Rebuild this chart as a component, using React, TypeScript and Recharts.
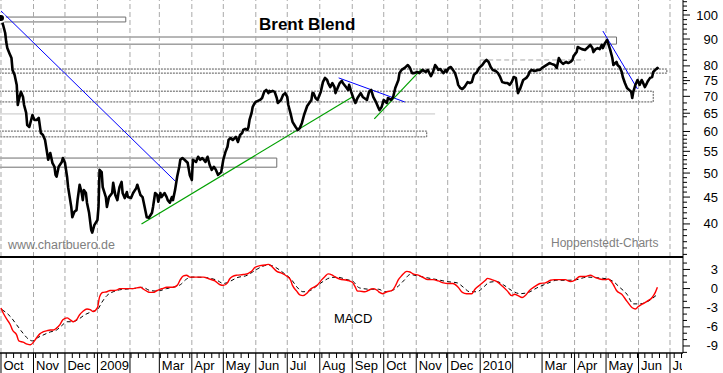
import React from 'react';
import { Line, LineChart, ReferenceArea, ReferenceLine, XAxis, YAxis } from 'recharts';

const FONT = '"Liberation Sans", Arial, sans-serif';

// x values are calendar days counted from 1 Oct 2008
const monthDays = [0, 31, 61, 92, 123, 151, 182, 212, 243, 273, 304, 335, 365, 396, 426, 457, 488, 516, 547, 577, 608, 638];
const monthLabels = ['Oct', 'Nov', 'Dec', '2009', '', 'Mar', 'Apr', 'May', 'Jun', 'Jul', 'Aug', 'Sep', 'Oct', 'Nov', 'Dec', '2010', '', 'Mar', 'Apr', 'May', 'Jun', 'Jul'];

const priceLabels = [40, 45, 50, 55, 60, 65, 70, 75, 80, 90, 100];
const macdLabels = [3, 0, -3, -6, -9];

const brentDays = [
  0, 2, 4, 5, 6, 8, 10, 11, 13, 15, 16, 17, 19, 21, 22, 24, 25, 27, 30, 31, 32, 34, 36, 38, 40, 42, 44, 45, 47, 49,
  51, 52, 53, 55, 58, 59, 61, 63, 64, 67, 68, 70, 72, 73, 75, 77, 78, 79, 81, 82, 84, 86, 87, 89, 92, 93, 94, 96, 97, 100,
  101, 103, 106, 107, 109, 111, 112, 113, 115, 116, 118, 120, 121, 124, 126, 129, 130, 133, 135, 137, 139, 141, 144, 145, 147, 149, 150, 152, 153, 156,
  158, 159, 161, 163, 164, 166, 168, 170, 171, 173, 175, 178, 180, 182, 183, 186, 188, 190, 192, 195, 197, 199, 201, 203, 205, 207, 210, 212, 214, 216,
  217, 219, 221, 224, 226, 228, 230, 231, 233, 235, 236, 237, 239, 240, 242, 243, 247, 249, 251, 253, 255, 256, 257, 259, 261, 263, 264, 267, 269, 271,
  273, 274, 276, 278, 281, 283, 285, 287, 289, 292, 294, 296, 297, 298, 300, 302, 303, 305, 307, 309, 311, 312, 314, 316, 318, 319, 321, 323, 325, 326,
  329, 331, 332, 334, 336, 338, 340, 343, 345, 349, 351, 353, 355, 358, 360, 361, 363, 365, 368, 369, 372, 374, 376, 379, 380, 382, 385, 388, 390, 392,
  394, 397, 399, 401, 402, 405, 407, 410, 412, 414, 416, 417, 419, 421, 422, 424, 425, 427, 429, 431, 433, 435, 436, 438, 440, 442, 445, 447, 449, 451,
  454, 456, 459, 461, 463, 465, 467, 469, 472, 474, 476, 478, 481, 483, 485, 487, 489, 491, 493, 495, 498, 501, 503, 504, 506, 509, 512, 514, 516, 519,
  522, 523, 525, 528, 530, 532, 534, 536, 539, 541, 543, 545, 546, 549, 550, 552, 554, 557, 559, 560, 562, 564, 565, 567, 569, 571, 573, 574, 576, 578,
  579, 581, 583, 584, 586, 587, 588, 590, 592, 593, 595, 597, 599, 601, 602, 603, 605, 607, 608, 609, 611, 612, 614, 616, 617, 619, 621, 622, 624, 626,
  627,
];
const brentClose = [
  98.7, 95.7, 92.4, 88.8, 86.5, 84.6, 82.8, 78.6, 76.9, 73.6, 67.4, 68.9, 71.4, 69.8, 67.4, 65.1, 61.7, 61.2, 64.5, 63.7, 63.1, 63.1, 63.7, 59.6, 59.1, 57.8, 54.6, 53.0, 54.6, 52.3,
  51.4, 49.6, 49.2, 51.4, 52.5, 53.4, 52.3, 49.2, 47.0, 43.1, 41.2, 42.2, 42.5, 44.4, 47.5, 45.8, 44.4, 46.4, 45.8, 43.9, 42.0, 39.0, 38.5, 39.8, 40.7, 43.1, 50.7, 50.2, 47.0, 45.0,
  43.1, 45.0, 45.8, 47.9, 45.4, 44.4, 45.8, 47.0, 48.1, 45.8, 44.8, 46.0, 45.0, 44.8, 45.8, 46.8, 47.5, 45.4, 45.0, 43.1, 41.2, 41.1, 42.0, 43.1, 45.8, 45.4, 44.1, 45.8, 45.0, 45.8,
  45.0, 44.4, 43.9, 45.0, 44.4, 46.4, 49.2, 51.4, 53.0, 53.4, 53.0, 52.3, 49.6, 48.5, 53.0, 52.5, 53.7, 53.0, 53.4, 52.5, 53.7, 51.8, 50.7, 51.4, 50.7, 49.6, 50.2, 53.0, 54.8, 56.1,
  57.8, 58.3, 57.8, 58.6, 57.3, 59.1, 59.6, 60.4, 60.7, 60.4, 61.2, 63.1, 65.1, 66.8, 68.0, 68.3, 68.9, 69.5, 71.4, 72.0, 71.0, 71.7, 71.4, 71.7, 71.4, 69.5, 68.0, 68.9, 70.4, 71.0,
  69.8, 67.4, 65.1, 62.6, 61.2, 60.4, 60.9, 62.3, 64.5, 67.1, 68.0, 68.9, 71.0, 71.0, 69.5, 68.9, 69.8, 71.4, 74.5, 75.9, 75.2, 74.2, 72.9, 74.2, 72.9, 71.0, 72.6, 74.2, 74.9, 74.2,
  72.9, 72.0, 73.6, 71.4, 69.5, 68.0, 69.5, 71.0, 69.8, 68.9, 71.4, 72.0, 69.8, 68.0, 66.5, 65.9, 66.8, 68.9, 68.0, 69.5, 68.9, 69.8, 72.6, 75.2, 77.5, 78.6, 79.3, 80.3, 79.3, 77.5,
  77.5, 77.9, 77.5, 78.2, 78.6, 77.9, 78.6, 76.5, 77.9, 80.3, 79.3, 78.6, 78.9, 77.9, 77.5, 78.6, 77.9, 79.3, 79.6, 78.6, 77.5, 75.2, 73.6, 72.6, 72.3, 72.9, 74.5, 74.2, 74.5, 76.9,
  77.9, 79.3, 80.3, 81.4, 82.1, 81.4, 79.6, 78.6, 78.2, 77.5, 76.2, 74.5, 74.2, 74.2, 73.6, 74.5, 76.2, 75.9, 71.0, 72.3, 75.2, 75.9, 76.9, 77.9, 78.6, 78.2, 78.6, 78.6, 79.3, 80.0,
  80.7, 81.0, 80.7, 80.3, 79.3, 82.8, 81.4, 80.7, 81.4, 81.0, 81.4, 82.1, 83.5, 85.0, 86.9, 86.5, 86.1, 85.8, 86.5, 86.9, 87.7, 86.5, 85.0, 86.1, 86.5, 86.1, 87.7, 86.5, 88.4, 89.6,
  88.4, 85.8, 82.8, 80.3, 81.0, 81.4, 80.3, 79.6, 77.9, 76.2, 74.2, 72.6, 72.0, 71.4, 69.5, 71.4, 73.6, 75.2, 74.5, 73.6, 75.2, 74.5, 72.9, 74.2, 74.9, 75.9, 76.2, 77.9, 78.6, 79.3,
  78.9,
];

const macdDays = [
  0, 2, 6, 9, 11, 15, 17, 21, 25, 28, 31, 34, 37, 40, 44, 47, 50, 53, 56, 59, 63, 66, 69, 72, 75, 78, 82, 85, 88, 92,
  94, 97, 101, 104, 107, 111, 113, 120, 126, 133, 135, 139, 142, 145, 149, 152, 154, 158, 161, 164, 168, 171, 174, 177, 180, 187, 193, 199, 204, 209,
  212, 216, 218, 221, 225, 231, 236, 239, 242, 247, 252, 255, 258, 263, 268, 273, 276, 278, 282, 285, 288, 292, 295, 298, 302, 306, 309, 312, 316, 319,
  323, 330, 335, 338, 340, 342, 347, 350, 355, 359, 361, 364, 368, 373, 376, 379, 382, 387, 390, 393, 398, 402, 407, 412, 417, 422, 426, 431, 436, 440,
  444, 449, 452, 457, 462, 464, 468, 473, 478, 483, 487, 490, 493, 497, 500, 504, 509, 514, 519, 524, 528, 533, 538, 543, 547, 552, 557, 562, 566, 571,
  576, 579, 584, 587, 592, 597, 602, 605, 608, 612, 616, 621, 624, 626,
];
const macdValues = [
  -3.05, -3.8, -4.9, -5.7, -6.5, -7.3, -8.2, -8.4, -8.7, -8.8, -8.4, -7.7, -7.1, -6.8, -6.6, -6.5, -6.5, -6.2, -5.7, -4.9, -4.6, -4.9, -5.2, -4.9, -4.1, -3.6, -3.2, -3.3, -3.6, -3.0,
  -1.3, -0.6, -0.5, -0.3, -0.3, -0.2, 0, 0, 0, 0.2, 0, -0.4, -0.6, -0.6, -0.3, -0.1, 0, 0.2, 0.2, 0.2, 0.5, 1.4, 2.0, 2.1, 1.8, 1.8, 1.8, 1.5, 1.2, 0.6,
  0.5, 0.9, 1.5, 1.9, 2.1, 2.2, 2.4, 2.7, 3.3, 3.6, 3.7, 3.8, 3.5, 2.7, 2.4, 1.9, 1.4, 0.5, -0.4, -1.0, -1.1, -0.7, -0.1, 0.2, 0.6, 1.4, 1.9, 2.3, 2.1, 1.8,
  1.5, 1.3, 1.0, 0.2, -0.4, -0.4, -0.5, -0.3, 0, -0.3, -0.6, -0.8, -0.5, -0.3, 0.4, 1.4, 2.0, 2.7, 2.6, 2.3, 2.1, 1.8, 1.4, 1.4, 1.2, 0.9, 0.8, 0.8, 0.2, -0.6,
  -0.8, -0.8, -0.1, 0.6, 1.3, 1.6, 1.4, 1.1, 0.4, -0.4, -1.1, -0.9, -1.1, -1.4, -1.1, -0.3, 0.3, 0.8, 0.9, 1.3, 1.4, 1.4, 1.4, 1.1, 1.3, 1.9, 1.9, 2.1, 1.8, 1.5,
  1.4, 1.5, 0.6, -0.3, -0.9, -2.0, -3.0, -3.2, -2.8, -2.4, -2.0, -1.4, -0.6, 0.2,
];

const signalDays = [
  1, 9, 15, 21, 26, 30, 32, 35, 40, 47, 53, 58, 63, 68, 73, 80, 87, 92, 96, 101, 107, 113, 126, 135, 142, 149, 158, 164, 171, 177,
  183, 196, 206, 212, 218, 225, 235, 240, 247, 255, 261, 269, 277, 283, 288, 295, 301, 307, 314, 320, 330, 336, 340, 342, 352, 360, 366, 373, 379, 385,
  390, 397, 406, 416, 425, 435, 441, 447, 454, 460, 466, 473, 479, 487, 495, 503, 511, 521, 530, 540, 549, 559, 568, 578, 584, 590, 597, 603, 609, 617,
  626,
];
const signalValues = [
  -3.3, -4.4, -5.7, -7.0, -7.9, -8.2, -8.1, -7.7, -7.3, -6.8, -6.5, -5.8, -5.2, -5.2, -4.9, -4.1, -3.6, -3.3, -2.2, -1.1, -0.5, -0.2, 0, 0.2, -0.3, -0.4, 0, 0.2, 0.6, 1.5,
  1.8, 1.7, 1.3, 0.8, 1.1, 1.7, 2.1, 2.6, 3.3, 3.7, 3.4, 2.5, 1.4, 0.1, -0.5, -0.3, 0.4, 1.1, 1.7, 1.8, 1.4, 1.1, 0.3, 0.1, -0.1, -0.1, -0.5, -0.3, 0.4, 1.4,
  2.2, 2.0, 1.7, 1.4, 1.1, 0.9, 0.2, -0.5, -0.5, 0.2, 1.0, 1.1, 0.6, -0.3, -0.8, -0.6, 0.1, 0.8, 1.3, 1.3, 1.4, 1.8, 1.7, 1.5, 1.1, 0.2, -0.9, -2.4, -2.4, -2.0,
  -0.9,
];

// horizontal level boxes: [from day, to day, low, high]
const levelBoxes = [
  [-2, 119, 97.0, 99.1],
  [-2, 587, 88.0, 90.8],
  [-2, 635, 77.5, 78.9],
  [-2, 622, 68.3, 71.6],
  [-2, 406, 58.6, 60.1],
  [-2, 263, 51.3, 53.4],
];
const dottedBoxes = [2, 3, 4];
// single level lines: [from day, to day, price]
const levelLines = [
  [-2, 414, 64.8],
  [457, 557, 82.1],
];
// trend lines: [day, price] -> [day, price]
const blueTrends = [
  [[0, 101.8], [166, 48.3]],
  [[322, 75.9], [385, 68.3]],
  [[574, 93.2], [607, 72.3]],
];
const greenTrends = [
  [[134, 40.0], [335, 69.8]],
  [[356, 63.4], [401, 78.9]],
];

const priceTicks: number[] = [];
for (let v = 35; v < 60; v += 1) priceTicks.push(v);
for (let v = 60; v <= 106; v += 2) priceTicks.push(v);
priceLabels.forEach((v) => {
  if (!priceTicks.includes(v)) priceTicks.push(v);
});
priceTicks.sort((a, b) => a - b);
const macdTicks: number[] = [];
for (let v = -10; v <= 4; v += 1) macdTicks.push(v);
const weekTicks: number[] = [];
for (let d = 5; d < 650; d += 7) weekTicks.push(d);
const dateTicks = [...monthDays, ...weekTicks.filter((d) => !monthDays.includes(d))].sort((a, b) => a - b);

const brentData = brentDays.map((d, i) => ({ d, v: brentClose[i] }));
const macdData = macdDays.map((d, i) => ({ d, v: macdValues[i] }));
const signalData = signalDays.map((d, i) => ({ d, v: signalValues[i] }));

const X_DOMAIN: [number, number] = [-0.95, 650.4];
const GRID = '#a9a9a9';

const PriceTick = ({ x, y, payload }: any) => {
  const major = priceLabels.includes(payload.value);
  return (
    <g>
      <line x1={x} x2={x + (major ? 7 : 4)} y1={y} y2={y} stroke="#000" />
      {major && (
        <text x={x + 35} y={y} dy={4.5} textAnchor="end" fontSize={13} fontFamily={FONT} fill="#000">
          {payload.value}
        </text>
      )}
    </g>
  );
};

const MacdTick = ({ x, y, payload }: any) => {
  const major = macdLabels.includes(payload.value);
  return (
    <g>
      <line x1={x} x2={x + (major ? 7 : 4)} y1={y} y2={y} stroke="#000" />
      {major && (
        <text x={x + 35} y={y} dy={4.5} textAnchor="end" fontSize={13} fontFamily={FONT} fill="#000">
          {payload.value}
        </text>
      )}
    </g>
  );
};

const DateTick = ({ x, y, payload }: any) => {
  const i = monthDays.indexOf(payload.value);
  if (i < 0) return <line x1={x} x2={x} y1={y} y2={y + 5} stroke="#000" />;
  const clipId = `dclip${i}`;
  return (
    <g>
      <defs>
        <clipPath id={clipId}>
          <rect x={0} y={y} width={682} height={22} />
        </clipPath>
      </defs>
      <line x1={x} x2={x} y1={y} y2={y + 20} stroke="#000" />
      <text x={x + 2.5} y={y + 17} fontSize={13} fontFamily={FONT} fill="#000" clipPath={`url(#${clipId})`}>
        {monthLabels[i]}
      </text>
    </g>
  );
};

export default function App() {
  return (
    <div style={{ position: 'absolute', left: 0, top: 0, width: 723, height: 373, background: '#fff', overflow: 'hidden' }}>
      <div style={{ position: 'absolute', left: 0, top: 0 }}>
        <LineChart width={723} height={257} margin={{ top: 0, right: 0, bottom: 0, left: 0 }}>
          <XAxis dataKey="d" type="number" domain={X_DOMAIN} allowDataOverflow hide height={0} />
          <YAxis
            orientation="right"
            width={40}
            type="number"
            scale="log"
            domain={[34.6, 106.8]}
            allowDataOverflow
            ticks={priceTicks}
            interval={0}
            tick={<PriceTick />}
            tickLine={false}
            tickSize={0}
            tickMargin={0}
            axisLine={{ stroke: '#000' }}
          />
          {monthDays.map((d) => (
            <ReferenceLine key={`g${d}`} x={d} stroke={GRID} strokeDasharray="5 3" />
          ))}
          {levelBoxes.map(([x1, x2, y1, y2], i) => (
            <ReferenceArea
              key={`b${i}`}
              x1={x1}
              x2={x2}
              y1={y1}
              y2={y2}
              fill="none"
              stroke={dottedBoxes.includes(i) ? '#555' : '#6e6e6e'}
              strokeDasharray={dottedBoxes.includes(i) ? '2 1' : undefined}
              ifOverflow="hidden"
            />
          ))}
          <ReferenceLine
            segment={[{ x: levelLines[0][0], y: levelLines[0][2] }, { x: levelLines[0][1], y: levelLines[0][2] }]}
            stroke="#c4c4c4"
            ifOverflow="hidden"
          />
          <ReferenceLine
            segment={[{ x: levelLines[1][0], y: levelLines[1][2] }, { x: levelLines[1][1], y: levelLines[1][2] }]}
            stroke={GRID}
            strokeDasharray="5 3"
          />
          {blueTrends.map(([a, b], i) => (
            <ReferenceLine key={`bl${i}`} segment={[{ x: a[0], y: a[1] }, { x: b[0], y: b[1] }]} stroke="#0000ff" strokeWidth={1} />
          ))}
          {greenTrends.map(([a, b], i) => (
            <ReferenceLine key={`gr${i}`} segment={[{ x: a[0], y: a[1] }, { x: b[0], y: b[1] }]} stroke="#00a000" strokeWidth={1.2} />
          ))}
          <Line
            data={brentData}
            dataKey="v"
            type="linear"
            stroke="#000"
            strokeWidth={2.6}
            strokeLinejoin="round"
            dot={false}
            isAnimationActive={false}
          />
        </LineChart>
      </div>
      <div style={{ position: 'absolute', left: 0, top: 257 }}>
        <LineChart width={723} height={116} margin={{ top: 0, right: 0, bottom: 0, left: 0 }}>
          <XAxis
            dataKey="d"
            type="number"
            domain={X_DOMAIN}
            allowDataOverflow
            ticks={dateTicks}
            interval={0}
            height={20}
            tick={<DateTick />}
            tickLine={false}
            tickSize={0}
            tickMargin={0}
            axisLine={{ stroke: '#000', strokeWidth: 1.5 }}
          />
          <YAxis
            orientation="right"
            width={40}
            type="number"
            domain={[-10.1, 4.95]}
            allowDataOverflow
            ticks={macdTicks}
            interval={0}
            tick={<MacdTick />}
            tickLine={false}
            tickSize={0}
            tickMargin={0}
            axisLine={{ stroke: '#000' }}
          />
          {monthDays.map((d) => (
            <ReferenceLine key={`mg${d}`} x={d} stroke={GRID} strokeDasharray="5 3" />
          ))}
          <Line
            data={signalData}
            dataKey="v"
            type="monotone"
            stroke="#000"
            strokeWidth={1}
            strokeDasharray="4 3"
            dot={false}
            isAnimationActive={false}
          />
          <Line data={macdData} dataKey="v" type="monotone" stroke="#ff0000" strokeWidth={1.4} dot={false} isAnimationActive={false} />
        </LineChart>
      </div>
      <div style={{ position: 'absolute', left: 0, top: 256, width: 683, height: 2, background: '#000' }} />
      <svg width={723} height={373} style={{ position: 'absolute', left: 0, top: 0, pointerEvents: 'none' }}>
        <text x={259} y={30} fontSize={17} fontWeight="bold" fontFamily={FONT} fill="#000">
          Brent Blend
        </text>
        <text x={8} y={249} fontSize={12.5} fontFamily={FONT} fill="#808080">
          www.chartbuero.de
        </text>
        <text x={551} y={247} fontSize={12} fontFamily={FONT} fill="#808080">
          Hoppenstedt-Charts
        </text>
        <text x={334} y={323} fontSize={13} fontFamily={FONT} fill="#000">
          MACD
        </text>
      </svg>
    </div>
  );
}
